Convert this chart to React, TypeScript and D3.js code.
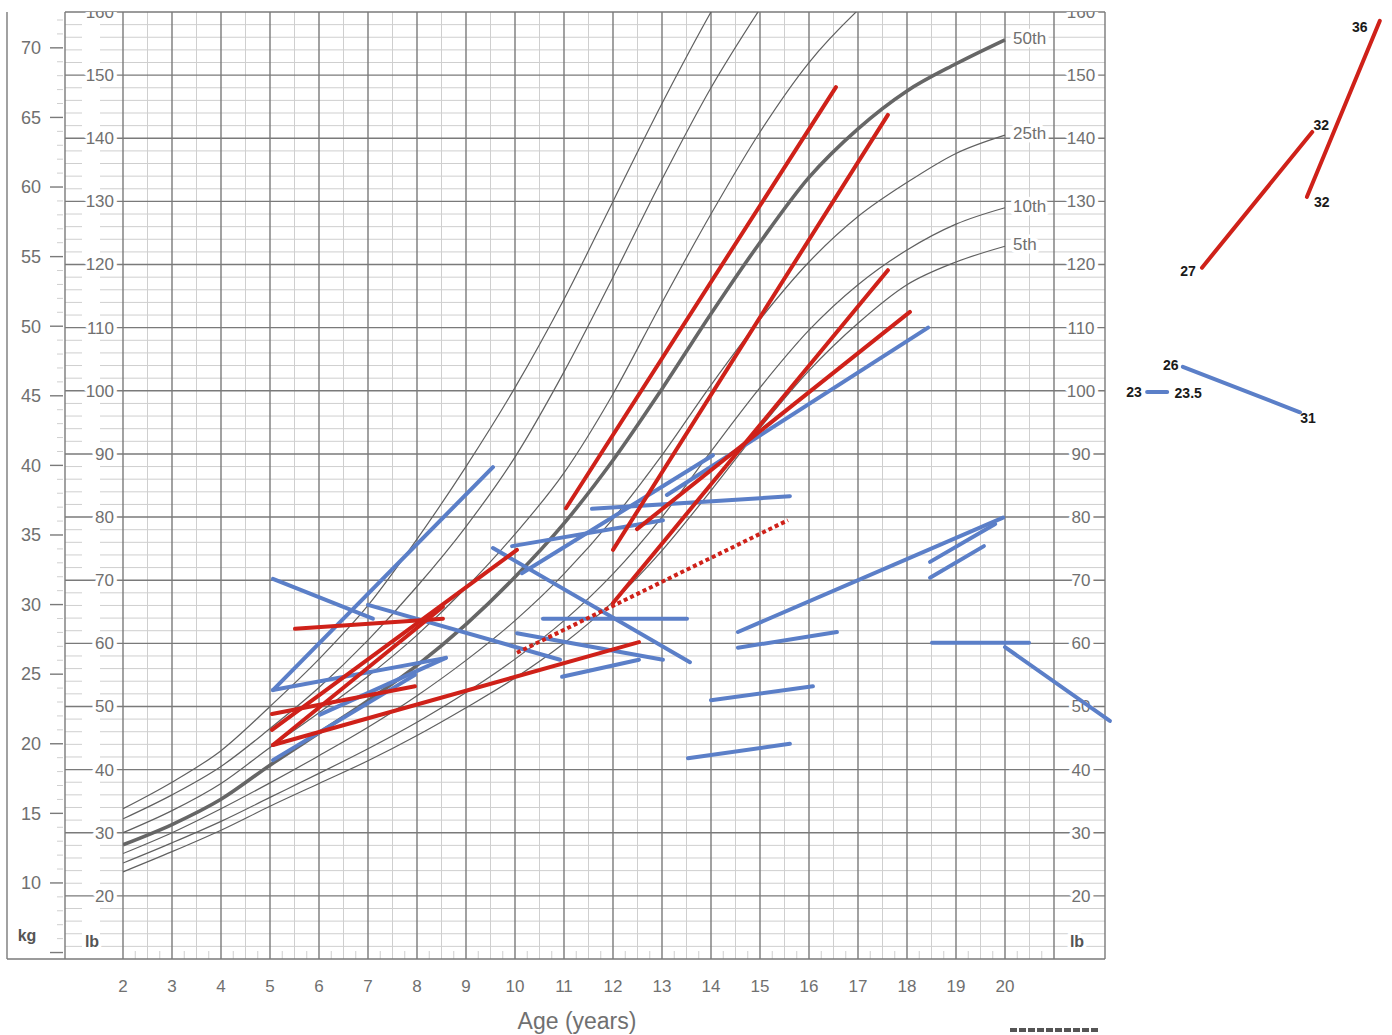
// Boys weight-for-age chart (2-20 yrs) with patient weight trajectories drawn over it.
import React from 'react';
import * as d3 from 'd3';

// percentile curves, weight in lb, read at whole years starting from age 2
const p5 = [23.8, 27.0, 30.4, 34.2, 37.8, 41.4, 45.4, 49.8, 54.5, 60.0, 66.6, 74.7, 84.2, 94.1, 103.2, 110.7, 116.8, 120.4, 122.9];
const p10 = [25.2, 28.4, 31.8, 35.6, 39.4, 43.3, 47.5, 52.2, 57.5, 63.6, 71.0, 80.0, 90.4, 100.5, 109.6, 116.8, 122.3, 126.4, 129.0];
const p25 = [26.7, 30.0, 33.8, 37.9, 42.2, 46.7, 51.7, 57.3, 63.6, 71.0, 79.7, 89.8, 100.9, 111.3, 120.4, 127.6, 133.0, 137.6, 140.5];
const p50 = [28.1, 31.3, 35.3, 40.7, 45.8, 50.9, 56.5, 63.0, 70.5, 79.0, 89.0, 100.3, 112.2, 123.5, 133.8, 141.5, 147.5, 151.8, 155.6];
const p75 = [30.0, 33.5, 37.8, 43.5, 49.0, 54.8, 61.3, 68.8, 77.3, 87.0, 99.5, 114.0, 128.0, 141.0, 152.0, 160.3, 167.0];
const p90 = [32.2, 36.0, 40.5, 46.5, 53.0, 60.5, 69.0, 78.5, 89.5, 103.0, 118.0, 133.5, 148.0, 160.5, 172.0];
const p95 = [33.8, 38.0, 43.0, 50.0, 57.5, 66.0, 76.5, 88.0, 100.5, 114.5, 130.0, 145.5, 160.0, 173.0];
const pctLabels = ['50th', '25th', '10th', '5th'];

// patient segments: [age start, lb start, age end, lb end]
const redLines = [
  [11.04, 81.4, 16.55, 148.1],
  [12.0, 74.8, 17.61, 143.7],
  [12.0, 66.4, 17.61, 119.1],
  [12.49, 78.1, 18.06, 112.5],
  [5.51, 62.3, 8.53, 63.9],
  [5.06, 43.9, 8.53, 65.8],
  [5.04, 46.3, 10.04, 74.8],
  [5.04, 48.8, 7.96, 53.2],
  [5.06, 43.9, 12.53, 60.2],
];
const redDotted = [[10.04, 58.5, 15.57, 79.5]];
const blueLines = [
  [5.06, 70.2, 7.1, 63.9],
  [7.0, 66.1, 10.92, 57.4],
  [5.06, 52.6, 9.55, 87.9],
  [5.06, 52.6, 8.59, 57.7],
  [5.06, 41.5, 7.96, 55.0],
  [6.02, 48.7, 8.59, 57.7],
  [9.55, 75.1, 13.57, 57.0],
  [10.04, 61.6, 13.02, 57.4],
  [10.57, 63.9, 13.51, 63.9],
  [10.96, 54.7, 12.53, 57.4],
  [9.94, 75.4, 13.02, 79.5],
  [10.14, 71.1, 14.04, 89.8],
  [11.57, 81.3, 15.61, 83.3],
  [13.1, 83.5, 18.43, 110.0],
  [14.55, 61.8, 19.96, 79.9],
  [18.47, 72.9, 19.8, 78.9],
  [18.47, 70.4, 19.57, 75.4],
  [14.55, 59.3, 16.57, 61.8],
  [14.0, 51.0, 16.08, 53.2],
  [13.53, 41.8, 15.61, 44.1],
  [18.51, 60.1, 20.49, 60.1],
  [20.0, 59.4, 22.14, 47.7],
];

// adult follow-up drawn beside the chart: labels are ages, pos is where it sits on the age axis
const adultRed = [
  { from: '27', to: '32', pos1: 24.02, lb1: 119.5, pos2: 26.27, lb2: 141.0 },
  { from: '32', to: '36', pos1: 26.16, lb1: 130.7, pos2: 27.65, lb2: 158.6 },
];
const adultBlue = [
  { from: '23', to: '23.5', pos1: 22.9, lb1: 99.8, pos2: 23.31, lb2: 99.8 },
  { from: '26', to: '31', pos1: 23.63, lb1: 103.8, pos2: 26.02, lb2: 96.6 },
];

const RED = '#cf2119';
const BLUE = '#5b7fc8';
const GRID = '#7a7a7a';
const MINOR = '#cfcfcf';
const TXT = '#707070';
const FONT = '"Liberation Sans", Arial, sans-serif';

export default function App() {
  const x = d3.scaleLinear().domain([2, 21]).range([123, 1054]);
  const y = d3.scaleLinear().domain([10, 160]).range([959, 12]);
  const yKg = d3.scaleLinear().domain([10 / 2.20462, 160 / 2.20462]).range([959, 12]);
  const top = y(160), bottom = y(10);
  const lbLeft = 65, outerLeft = 7, outerRight = 1105;

  const line = d3.line<number>().x((d, i) => x(2 + i)).y(d => y(d)).curve(d3.curveMonotoneX);
  const curves = [p95, p90, p75, p25, p10, p5];

  const halo = { paintOrder: 'stroke', stroke: '#fff', strokeWidth: 7, strokeLinejoin: 'round' } as any;

  const seg = (s: number[], i: number, color: string, dash?: string) => (
    <line key={i} x1={x(s[0])} y1={y(s[1])} x2={x(s[2])} y2={y(s[3])}
      stroke={color} strokeWidth={4} strokeDasharray={dash} strokeLinecap={dash ? 'butt' : 'round'} />
  );

  // label nudges for the adult annotations (pixels)
  const adultOffsets = [
    [[-14, 3], [9, -7]],
    [[15, 5], [-20, 6]],
  ];
  const adultBlueOffsets = [
    [[-13, 0], [21, 1]],
    [[-12, -2], [8, 6]],
  ];

  return (
    <svg width={1392} height={1035} style={{ position: 'absolute', left: 0, top: 0, background: '#fff' }} fontFamily={FONT}>
      <defs>
        <clipPath id="plot"><rect x={x(2)} y={top} width={x(21) - x(2)} height={bottom - top} /></clipPath>
        <clipPath id="below-top"><rect x={0} y={top} width={1392} height={1035} /></clipPath>
      </defs>

      {/* minor horizontal lines every 2 lb */}
      {d3.range(12, 160, 2).filter(v => v % 10 !== 0).map(v => (
        <g key={'h' + v} stroke={MINOR} strokeWidth={1}>
          <line x1={lbLeft} x2={82} y1={y(v)} y2={y(v)} />
          <line x1={100} x2={outerRight} y1={y(v)} y2={y(v)} />
        </g>
      ))}
      {/* kg minor ticks */}
      {d3.range(5, 73).filter(v => v % 5 !== 0).map(v => (
        <line key={'kt' + v} x1={57} x2={63} y1={yKg(v)} y2={yKg(v)} stroke={MINOR} strokeWidth={1} />
      ))}
      {/* minor verticals at half years and quarter ticks */}
      {d3.range(2.5, 21, 1).map(a => (
        <line key={'mv' + a} x1={x(a)} x2={x(a)} y1={top} y2={bottom} stroke={MINOR} strokeWidth={1} />
      ))}
      {d3.range(2.25, 21, 0.5).map(a => (
        <line key={'q' + a} x1={x(a)} x2={x(a)} y1={bottom - 8} y2={bottom} stroke={MINOR} strokeWidth={1} />
      ))}
      {/* major grid */}
      {d3.range(20, 161, 10).map(v => (
        <line key={'H' + v} x1={lbLeft} x2={outerRight} y1={y(v)} y2={y(v)} stroke={GRID} strokeWidth={1.4} />
      ))}
      {d3.range(2, 22).map(a => (
        <line key={'V' + a} x1={x(a)} x2={x(a)} y1={top} y2={bottom} stroke={GRID} strokeWidth={1.4} />
      ))}
      {/* frame */}
      <line x1={lbLeft} x2={lbLeft} y1={top} y2={bottom} stroke={GRID} strokeWidth={1.4} />
      <line x1={outerLeft} x2={outerLeft} y1={top} y2={bottom} stroke={GRID} strokeWidth={1.4} />
      <line x1={outerRight} x2={outerRight} y1={top} y2={bottom} stroke={GRID} strokeWidth={1.4} />
      <line x1={outerLeft} x2={outerRight} y1={bottom} y2={bottom} stroke={GRID} strokeWidth={1.6} />

      {/* kg axis */}
      {d3.range(5, 71, 5).map(v => (
        <line key={'kT' + v} x1={50} x2={63} y1={yKg(v)} y2={yKg(v)} stroke={GRID} strokeWidth={1.4} />
      ))}
      {d3.range(10, 71, 5).map(v => (
        <text key={'kL' + v} x={41} y={yKg(v)} dy="0.35em" textAnchor="end" fontSize={18} fill={TXT}>{v}</text>
      ))}

      {/* lb labels both sides */}
      <g clipPath="url(#below-top)">
        {d3.range(20, 161, 10).map(v => (
          <g key={'lL' + v} fontSize={17} fill={TXT}>
            <text x={114} y={y(v)} dy="0.35em" textAnchor="end" style={halo}>{v}</text>
            <text x={1081} y={y(v)} dy="0.35em" textAnchor="middle" style={halo}>{v}</text>
          </g>
        ))}
      </g>
      <text x={27} y={941} textAnchor="middle" fontSize={16} fontWeight="bold" fill="#555" style={halo}>kg</text>
      <text x={92} y={947} textAnchor="middle" fontSize={16} fontWeight="bold" fill="#555" style={halo}>lb</text>
      <text x={1077} y={947} textAnchor="middle" fontSize={16} fontWeight="bold" fill="#555" style={halo}>lb</text>

      {/* percentile curves */}
      <g clipPath="url(#plot)" fill="none">
        {curves.map((c, i) => <path key={'c' + i} d={line(c) || ''} stroke="#606060" strokeWidth={1.2} />)}
        <path d={line(p50) || ''} stroke="#666" strokeWidth={3.6} />
      </g>
      {[p50, p25, p10, p5].map((c, i) => (
        <text key={'pl' + i} x={x(20) + 8} y={y(c[c.length - 1]) - 2} dy="0.35em" fontSize={17} fill={TXT} style={halo}>
          {pctLabels[i]}
        </text>
      ))}

      {/* age axis */}
      {d3.range(2, 21).map(a => (
        <text key={'a' + a} x={x(a)} y={986} dy="0.35em" textAnchor="middle" fontSize={17} fill={TXT}>{a}</text>
      ))}
      <text x={577} y={1021} dy="0.35em" textAnchor="middle" fontSize={23} fill={TXT}>Age (years)</text>
      <line x1={1010} x2={1100} y1={1030} y2={1030} stroke="#555" strokeWidth={4} strokeDasharray="7 2" />

      {/* patient trajectories */}
      <g>
        {blueLines.map((s, i) => seg(s, i, BLUE))}
        {redLines.map((s, i) => seg(s, 100 + i, RED))}
        {redDotted.map((s, i) => seg(s, 200 + i, RED, '4 3'))}
      </g>

      {/* adult follow-up */}
      <g fontSize={14} fontWeight="bold" fill="#1a1a1a" textAnchor="middle">
        {adultRed.map((d, i) => (
          <g key={'ar' + i}>
            <line x1={x(d.pos1)} y1={y(d.lb1)} x2={x(d.pos2)} y2={y(d.lb2)} stroke={RED} strokeWidth={4} strokeLinecap="round" />
            <text x={x(d.pos1) + adultOffsets[i][0][0]} y={y(d.lb1) + adultOffsets[i][0][1]} dy="0.35em">{d.from}</text>
            <text x={x(d.pos2) + adultOffsets[i][1][0]} y={y(d.lb2) + adultOffsets[i][1][1]} dy="0.35em">{d.to}</text>
          </g>
        ))}
        {adultBlue.map((d, i) => (
          <g key={'ab' + i}>
            <line x1={x(d.pos1)} y1={y(d.lb1)} x2={x(d.pos2)} y2={y(d.lb2)} stroke={BLUE} strokeWidth={4} strokeLinecap="round" />
            <text x={x(d.pos1) + adultBlueOffsets[i][0][0]} y={y(d.lb1) + adultBlueOffsets[i][0][1]} dy="0.35em">{d.from}</text>
            <text x={x(d.pos2) + adultBlueOffsets[i][1][0]} y={y(d.lb2) + adultBlueOffsets[i][1][1]} dy="0.35em">{d.to}</text>
          </g>
        ))}
      </g>
    </svg>
  );
}
